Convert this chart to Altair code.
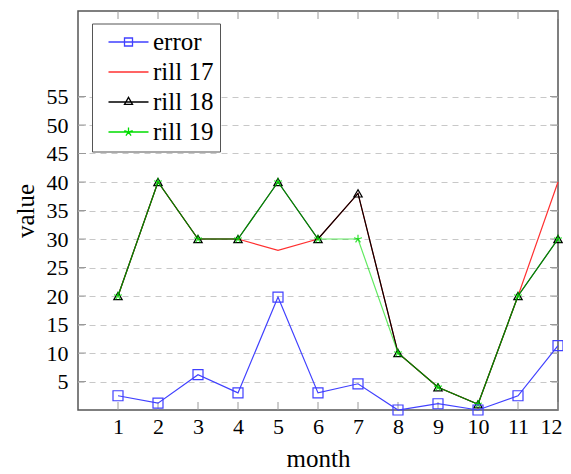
import math
import altair as alt
import pandas as pd

# ---- data ----
months = list(range(1, 13))
error = [2.5, 1.2, 6.2, 3.0, 19.8, 3.0, 4.6, 0.0, 1.1, 0.0, 2.5, 11.3]
rill17 = [20, 40, 30, 30, 28, 30, 38, 10, 4, 1, 20, 40]
rill18 = [20, 40, 30, 30, 40, 30, 38, 10, 4, 1, 20, 30]
rill19 = [20, 40, 30, 30, 40, 30, 30, 10, 4, 1, 20, 30]
series_names = ["error", "rill 17", "rill 18", "rill 19"]
series_values = [error, rill17, rill18, rill19]
x_ticks = months
y_ticks = [5, 10, 15, 20, 25, 30, 35, 40, 45, 50, 55]

# ---- styling ----
FONT = "Liberation Serif"
colors = {"error": "#4040ff", "rill 17": "#ff3030", "rill 18": "#000000", "rill 19": "#00dd00"}
opac = {"error": 1.0, "rill 17": 1.0, "rill 18": 1.0, "rill 19": 0.62}


def star_path(cx, r):
    parts = []
    for k in range(5):
        a = math.radians(90 + 72 * k)
        parts.append(f"M{cx:.3f},0L{cx + r * math.cos(a):.3f},{-r * math.sin(a):.3f}")
    return "".join(parts)


line_seg = "M-0.5,0H9.5"
cx = 4.5
legend_paths = [
    line_seg + f"M{cx-1},-1H{cx+1}V1H{cx-1}Z",
    line_seg,
    line_seg + f"M{cx},-1.15L{cx+1},0.6L{cx-1},0.6Z",
    line_seg + star_path(cx, 1.1),
]
marker_star = star_path(0, 1.0)

rows = []
for name, vals in zip(series_names, series_values):
    for m, v in zip(months, vals):
        rows.append({"month": m, "value": v, "series": name})
df = pd.DataFrame(rows)

xscale = alt.Scale(domain=[0, 12], nice=False, zero=False)
yscale = alt.Scale(domain=[0, 70], nice=False)

x_axis = alt.Axis(values=x_ticks, grid=False, labelPadding=6, titlePadding=9,
                  labelFlush=True, labelFlushOffset=4, labelOverlap=False, labelBound=False)
y_axis = alt.Axis(values=y_ticks, grid=True, gridDash=[6, 5], gridColor="#c8c8c8",
                  gridWidth=1, labelPadding=10, titlePadding=8,
                  labelFlush=False, labelOverlap=False, labelBound=False)
X = alt.X("month:Q", scale=xscale, title="month", axis=x_axis)
Y = alt.Y("value:Q", scale=yscale, title="value", axis=y_axis)

base = alt.Chart(df)

leg = dict(title=None, orient="none", legendX=14, legendY=12.5,
           symbolOpacity=1, symbolSize=64, symbolStrokeWidth=1.3,
           labelOffset=30, rowPadding=4, padding=6,
           strokeColor="#555555", fillColor="white",
           labelFont=FONT, labelFontSize=25, labelColor="black")

# invisible layer carrying the legend
legend_layer = base.mark_point(opacity=0, filled=False, size=64, strokeWidth=1.3).encode(
    x=X, y=Y,
    color=alt.Color("series:N", scale=alt.Scale(domain=series_names,
                                                range=[colors[s] for s in series_names]),
                    legend=alt.Legend(**leg)),
    shape=alt.Shape("series:N", scale=alt.Scale(domain=series_names, range=legend_paths),
                    legend=alt.Legend(**leg)),
)

layers = [legend_layer]

# tick marks (inward, on all four sides)
xt = pd.DataFrame({"month": x_ticks})
yt = pd.DataFrame({"value": y_ticks})
tick_style = dict(color="#9a9a9a", strokeWidth=1)
layers.append(alt.Chart(xt).mark_rule(**tick_style).encode(x=X, y=alt.value(399), y2=alt.value(391)))
layers.append(alt.Chart(xt).mark_rule(**tick_style).encode(x=X, y=alt.value(0), y2=alt.value(8)))
layers.append(alt.Chart(yt).mark_rule(**tick_style).encode(y=Y, x=alt.value(0), x2=alt.value(8)))
layers.append(alt.Chart(yt).mark_rule(**tick_style).encode(y=Y, x=alt.value(480), x2=alt.value(472)))

markers = {"error": ("square", 100), "rill 18": ("triangle-up", 70), "rill 19": (marker_star, 70)}
for name in ["rill 17", "rill 18", "rill 19", "error"]:
    sub = base.transform_filter(alt.datum.series == name)
    layers.append(sub.mark_line(color=colors[name], strokeWidth=1.2, opacity=opac[name]).encode(x=X, y=Y))
    if name in markers:
        shp, sz = markers[name]
        layers.append(sub.mark_point(shape=shp, size=sz, filled=False, color=colors[name],
                                     strokeWidth=1.2, opacity=opac[name] if name != "rill 19" else 0.8).encode(x=X, y=Y))

chart = alt.layer(*layers).properties(
    width=480, height=399, autosize="none",
    padding={"left": 70, "top": 3, "right": 5, "bottom": 60},
).configure_view(stroke="#555555", strokeWidth=1.5).configure_axis(
    labelFont=FONT, labelFontSize=22, labelColor="black",
    titleFont=FONT, titleFontSize=25, titleFontWeight="normal", titleColor="black",
    domain=False, ticks=False, tickSize=0, labelOverlap=False,
)

chart.save("out.html", embed_options={"renderer": "svg", "actions": False})
